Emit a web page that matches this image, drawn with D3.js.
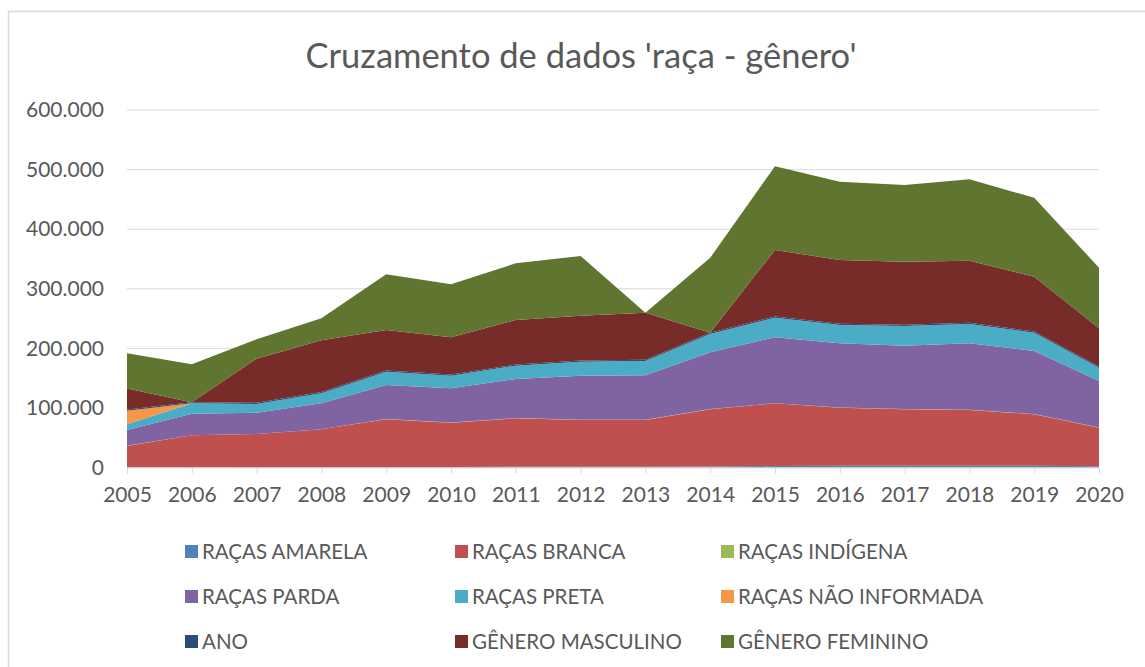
<!DOCTYPE html>
<html><head><meta charset="utf-8">
<script src="https://cdn.jsdelivr.net/npm/d3@7"></script>
<style>body{margin:0;background:#fff;} svg{display:block;font-family:Lato,"Open Sans",sans-serif;}</style>
</head><body><svg id="c" width="1145" height="667"></svg>
<script>
const years = [2005,2006,2007,2008,2009,2010,2011,2012,2013,2014,2015,2016,2017,2018,2019,2020];
const amarela = [500,600,700,800,900,1000,1100,1200,1300,1500,2500,2800,2900,3000,2800,2200];
const branca = [35700,53400,55500,63300,80000,74200,81500,78500,78400,96200,105200,97600,94800,93500,86500,64600];
const indigena = [200,200,200,200,300,300,300,300,300,300,300,300,300,300,300,300];
const parda = [26700,36100,35600,43400,57300,57400,65600,74100,74700,95300,110500,107700,106400,111600,105900,78100];
const preta = [9500,17400,14600,16800,22200,21200,22300,23500,24000,30700,32900,30700,33100,32400,30700,22300];
const naoInformada = [22800,0,0,0,0,0,0,0,0,0,0,0,0,0,0,0];
const ano = [2005,2006,2007,2008,2009,2010,2011,2012,2013,2014,2015,2016,2017,2018,2019,2020];
const masculino = [35000,0,74100,87200,68000,62400,74700,75100,79000,0,111600,107100,105800,104200,92000,64100];
const feminino = [59400,63500,32400,36700,93500,88900,95200,100200,0,126000,140700,131500,128700,136600,132500,101700];
const yTicks = [0,100000,200000,300000,400000,500000,600000];

const seriesNames = ["RAÇAS AMARELA","RAÇAS BRANCA","RAÇAS INDÍGENA","RAÇAS PARDA","RAÇAS PRETA","RAÇAS NÃO INFORMADA","ANO","GÊNERO MASCULINO","GÊNERO FEMININO"];
const seriesData = [amarela,branca,indigena,parda,preta,naoInformada,ano,masculino,feminino];
const colors = ["#4F81BD","#C0504D","#9BBB59","#8064A2","#4BACC6","#F79646","#2C4D75","#772C2A","#5F7530"];

const svg = d3.select("#c");
// chart border
svg.append("path").attr("d","M8.5,700 V11.5 H1160").attr("fill","none").attr("stroke","#d9d9d9").attr("stroke-width",1.5);

const x = d3.scaleLinear().domain([years[0], years[years.length-1]]).range([127,1099]);
const y = d3.scaleLinear().domain([0,600000]).range([467.5,110]);

// gridlines
svg.append("g").selectAll("line").data(yTicks.slice(1)).join("line")
  .attr("x1",127).attr("x2",1099).attr("y1",d=>y(d)).attr("y2",d=>y(d))
  .attr("stroke","#d9d9d9").attr("stroke-width",1);

const table = years.map((yr,i)=>{const o={year:yr}; seriesNames.forEach((n,k)=>o[n]=seriesData[k][i]); return o;});
const stack = d3.stack().keys(seriesNames)(table);
const area = d3.area().x(d=>x(d.data.year)).y0(d=>y(d[0])).y1(d=>y(d[1]));
svg.append("g").selectAll("path").data(stack).join("path")
  .attr("d",area).attr("fill",(d,i)=>colors[i]);

// x axis
const fmt = d3.formatLocale({decimal:",",thousands:".",grouping:[3],currency:["",""]}).format(",d");
const xAxis = svg.append("g").attr("transform","translate(0,467.5)")
  .call(d3.axisBottom(x).tickValues(years).tickFormat(d3.format("d")).tickSize(6).tickSizeOuter(0));
xAxis.select(".domain").attr("stroke","#d9d9d9");
xAxis.selectAll(".tick line").attr("stroke","#d9d9d9");
xAxis.selectAll("text").attr("fill","#595959").attr("font-size",21).attr("font-family","Lato, 'Open Sans', sans-serif").attr("dy","1.2em");

const yAxis = svg.append("g").attr("transform","translate(104,0)")
  .call(d3.axisLeft(y).tickValues(yTicks).tickFormat(fmt).tickSize(0));
yAxis.select(".domain").remove();
yAxis.selectAll("text").attr("fill","#595959").attr("font-size",21).attr("font-family","Lato, 'Open Sans', sans-serif").attr("x",0);

// title
svg.append("text").attr("x",581).attr("y",68).attr("text-anchor","middle")
  .attr("font-size",34.5).attr("fill","#595959").text("Cruzamento de dados 'raça - gênero'");

// legend
const colX = [185,455,721], rowY = [552,597,642];
const lg = svg.append("g").selectAll("g").data(seriesNames).join("g")
  .attr("transform",(d,i)=>`translate(${colX[i%3]},${rowY[Math.floor(i/3)]})`);
lg.append("rect").attr("x",0).attr("y",-7).attr("width",13).attr("height",13).attr("fill",(d,i)=>colors[i]);
lg.append("text").attr("x",17).attr("y",0).attr("dy","0.36em").attr("font-size",20.5).attr("fill","#595959").text(d=>d);
</script></body></html>
